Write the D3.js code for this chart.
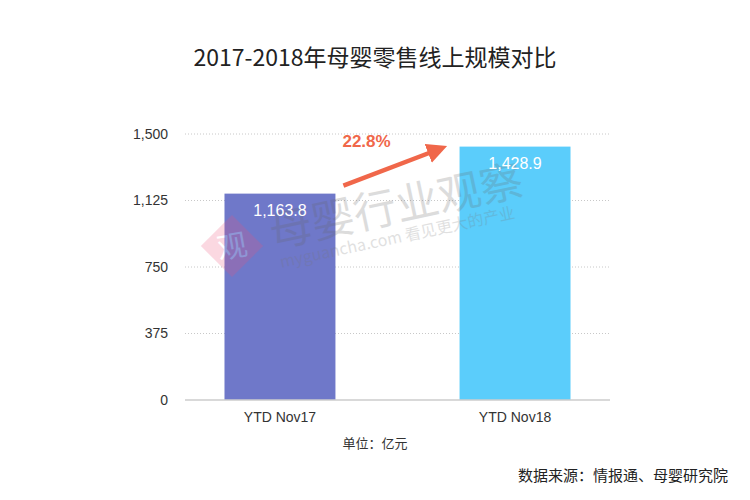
<!DOCTYPE html>
<html>
<head>
<meta charset="utf-8">
<script src="https://cdn.jsdelivr.net/npm/d3@7.9.0/dist/d3.min.js"></script>
<style>
  html, body { margin: 0; padding: 0; background: #fff; }
  text { font-family: "Noto Sans CJK SC", "Helvetica Neue", Arial, sans-serif; }
</style>
</head>
<body>
<div id="chart"></div>
<script>
const categories = ['YTD Nov17', 'YTD Nov18'];
const values = [1163.8, 1428.9];
const yTicks = [0, 375, 750, 1125, 1500];
const growth = '22.8%';
const barColors = ['#6f78c9', '#5bcdfb'];

const W = 750, H = 500;
const m = { top: 134, right: 140, bottom: 100, left: 185 };
const latin = 'Arial, "Liberation Sans", sans-serif';

const svg = d3.select('#chart').append('svg').attr('width', W).attr('height', H);

const x = d3.scaleBand().domain(categories)
  .range([m.left, W - m.right])
  .paddingInner(0.528).paddingOuter(0.168);
const y = d3.scaleLinear().domain([0, 1500]).range([H - m.bottom, m.top]);

// title
svg.append('text').attr('x', 375).attr('y', 66).attr('text-anchor', 'middle')
  .attr('font-size', 23).attr('fill', '#222').text('2017-2018年母婴零售线上规模对比');

// grid
svg.append('g').selectAll('line').data(yTicks.filter(d => d > 0)).enter().append('line')
  .attr('x1', m.left).attr('x2', W - m.right)
  .attr('y1', d => y(d)).attr('y2', d => y(d))
  .attr('stroke', '#c8c8c8').attr('stroke-width', 1).attr('stroke-dasharray', '1,2');

// y axis labels
const yAxis = svg.append('g').attr('transform', `translate(${m.left - 14},0)`)
  .call(d3.axisLeft(y).tickValues(yTicks).tickFormat(d3.format(',')).tickSize(0));
yAxis.select('.domain').remove();
yAxis.selectAll('text').attr('font-size', 14).attr('fill', '#333').style('font-family', latin);

// bars
svg.append('g').selectAll('rect').data(values).enter().append('rect')
  .attr('x', (d, i) => x(categories[i]))
  .attr('y', d => y(d))
  .attr('width', x.bandwidth())
  .attr('height', d => y(0) - y(d))
  .attr('fill', (d, i) => barColors[i]);

// watermark (over the bars, faint)
const wm = svg.append('g').attr('opacity', 0.22);
wm.append('rect').attr('x', -22).attr('y', -22).attr('width', 44).attr('height', 44)
  .attr('fill', '#f0507a').attr('transform', 'translate(232,246) rotate(45)');
wm.append('text').attr('x', 232).attr('y', 257).attr('text-anchor', 'middle')
  .attr('font-size', 30).attr('fill', '#fff').attr('transform', 'rotate(-10,232,246)').text('观');
const wt = wm.append('g').attr('transform', 'translate(273,248) rotate(-12)');
wt.append('text').attr('x', 0).attr('y', 0).attr('font-size', 43).attr('fill', '#666')
  .text('母婴行业观察');
wt.append('text').attr('x', 4).attr('y', 21).attr('font-size', 16).attr('fill', '#777')
  .text('myguancha.com 看见更大的产业');

// baseline
svg.append('line').attr('x1', m.left).attr('x2', W - m.right)
  .attr('y1', y(0)).attr('y2', y(0)).attr('stroke', '#ccc').attr('stroke-width', 1.5);

// value labels
svg.append('g').selectAll('text').data(values).enter().append('text')
  .attr('x', (d, i) => x(categories[i]) + x.bandwidth() / 2)
  .attr('y', d => y(d) + 22)
  .attr('text-anchor', 'middle').attr('font-size', 16).attr('fill', '#fff')
  .style('font-family', latin)
  .text(d => d3.format(',.1f')(d));

// x labels
const xAxis = svg.append('g').attr('transform', `translate(0,${y(0)})`)
  .call(d3.axisBottom(x).tickSize(0).tickPadding(12));
xAxis.select('.domain').remove();
xAxis.selectAll('text').attr('font-size', 14).attr('fill', '#333').style('font-family', latin);

// growth arrow
const c0 = x(categories[0]) + x.bandwidth(), c1 = x(categories[1]);
const ax0 = c0 + 8, ay0 = y(values[0]) - 8;
const ax1 = c1 - 12, ay1 = y(1500) + 12;
svg.append('defs').append('marker').attr('id', 'ah')
  .attr('viewBox', '0 0 10 10').attr('refX', 6).attr('refY', 5)
  .attr('markerWidth', 4.5).attr('markerHeight', 4.5).attr('orient', 'auto')
  .append('path').attr('d', 'M0,0L10,5L0,10z').attr('fill', '#f0674a');
svg.append('line').attr('x1', ax0).attr('y1', ay0).attr('x2', ax1 - 8).attr('y2', ay1 + 3)
  .attr('stroke', '#f0674a').attr('stroke-width', 4.5).attr('marker-end', 'url(#ah)');
svg.append('text').attr('x', ax0 - 1).attr('y', 147).attr('font-size', 17).attr('font-weight', 'bold')
  .attr('fill', '#f0674a').style('font-family', latin).text(growth);

// unit + source
svg.append('text').attr('x', 375).attr('y', 448).attr('text-anchor', 'middle')
  .attr('font-size', 13).attr('fill', '#333').text('单位：亿元');
svg.append('text').attr('x', 728).attr('y', 481).attr('text-anchor', 'end')
  .attr('font-size', 15).attr('fill', '#222').text('数据来源：情报通、母婴研究院');
</script>
</body>
</html>
